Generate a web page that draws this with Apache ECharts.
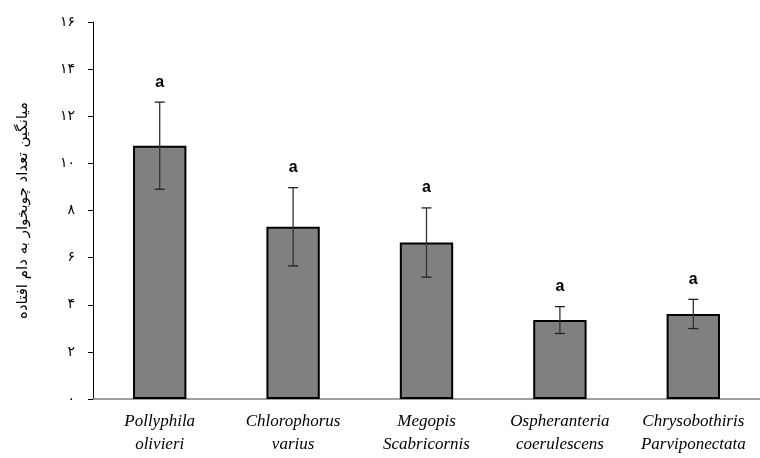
<!DOCTYPE html>
<html><head><meta charset="utf-8">
<script src="https://cdn.jsdelivr.net/npm/echarts@6/dist/echarts.min.js"></script>
<style>html,body{margin:0;padding:0;background:#fff}#c{width:760px;height:458px}</style>
</head><body><div id="c"></div>
<script>
var categories = ['Pollyphila\nolivieri', 'Chlorophorus\nvarius', 'Megopis\nScabricornis', 'Ospheranteria\ncoerulescens', 'Chrysobothiris\nParviponectata'];
var means = [10.75, 7.31, 6.64, 3.35, 3.61];
var errors = [1.85, 1.66, 1.47, 0.57, 0.62];
var letters = ['a', 'a', 'a', 'a', 'a'];
var yTickLabels = {0:'۰',2:'۲',4:'۴',6:'۶',8:'۸',10:'۱۰',12:'۱۲',14:'۱۴',16:'۱۶'};
var yTitle = 'میانگین تعداد چوبخوار به دام افتاده';

var errData = means.map(function(m, i){ return [i, m - errors[i], m + errors[i], letters[i]]; });

var chart = echarts.init(document.getElementById('c'));
chart.setOption({
  animation: false,
  grid: {left: 93, right: 0, top: 22, bottom: 59},
  xAxis: {
    type: 'category', data: categories,
    axisLine: {lineStyle: {color: '#808080', width: 1.5}},
    axisTick: {show: false},
    axisLabel: {fontFamily: 'Liberation Serif', fontStyle: 'italic', fontSize: 17, color: '#000', lineHeight: 23, margin: 11, interval: 0}
  },
  yAxis: {
    type: 'value', min: 0, max: 16, interval: 2,
    name: yTitle, nameLocation: 'middle', nameRotate: 90, nameGap: 62,
    nameTextStyle: {fontFamily: 'DejaVu Sans', fontSize: 15, color: '#000'},
    axisLine: {show: true, lineStyle: {color: '#000', width: 1}},
    axisTick: {show: true, length: 5, inside: false, lineStyle: {color: '#000'}},
    splitLine: {show: false},
    axisLabel: {margin: 18, fontFamily: 'DejaVu Sans', fontSize: 14, color: '#000', formatter: function(v){ return yTickLabels[v] !== undefined ? yTickLabels[v] : ''; }}
  },
  series: [{
    type: 'bar', data: means, barWidth: '40%',
    itemStyle: {color: '#808080', borderColor: '#000', borderWidth: 2}
  }, {
    type: 'custom', data: errData, z: 10,
    renderItem: function(params, api){
      var x = api.value(0);
      var lo = api.coord([x, api.value(1)]);
      var hi = api.coord([x, api.value(2)]);
      var cap = 5;
      return {type: 'group', children: [
        {type: 'line', shape: {x1: lo[0], y1: lo[1], x2: hi[0], y2: hi[1]}, style: {stroke: '#333', lineWidth: 1.3}},
        {type: 'line', shape: {x1: lo[0]-cap, y1: lo[1], x2: lo[0]+cap, y2: lo[1]}, style: {stroke: '#222', lineWidth: 1.3}},
        {type: 'line', shape: {x1: hi[0]-cap, y1: hi[1], x2: hi[0]+cap, y2: hi[1]}, style: {stroke: '#222', lineWidth: 1.3}},
        {type: 'text', x: hi[0], y: hi[1] - 12, style: {text: api.value(3), fill: '#000', font: 'bold 16px Liberation Sans', align: 'center', verticalAlign: 'bottom'}}
      ]};
    }
  }]
});
</script></body></html>
